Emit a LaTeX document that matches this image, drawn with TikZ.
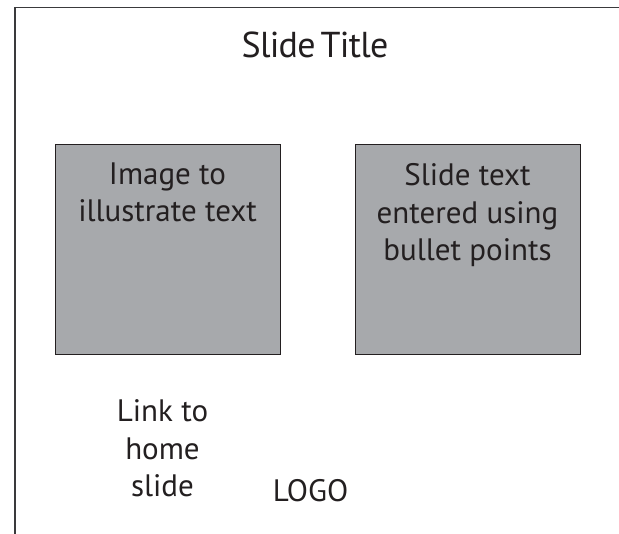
\documentclass[tikz,border=0pt]{standalone}
\usepackage{fontspec}
\setmainfont{PT Sans}
\definecolor{ink}{HTML}{231F20}
\definecolor{frameink}{HTML}{3A3A3C}
\definecolor{boxgray}{HTML}{A7A9AC}
\begin{document}
\begin{tikzpicture}[x=1pt,y=-1pt,
  graybox/.style={draw=ink, line width=1pt, fill=boxgray, inner sep=0pt, outer sep=0pt,
    minimum width=225pt, minimum height=210pt, anchor=north west},
  titletext/.style={text=ink, inner sep=0pt, anchor=base, font=\fontsize{36}{42}\selectfont\addfontfeature{LetterSpace=-2}},
  bodytext/.style={text=ink, inner sep=0pt, anchor=base, font=\fontsize{31}{37}\selectfont}]
\useasboundingbox (0,0) rectangle (619,534);
\fill[white] (0,0) rectangle (619,534);
% frame (partly outside the page)
\draw[frameink, line width=1.6pt] (15,540) -- (15,7.5) -- (625,7.5);
% title
\node[titletext] (title) at (315,58) {Slide\hspace{0.14em}Title};
% boxes
\node[graybox] (imgbox) at (55,145) {};
\node[graybox] (txtbox) at (355,145) {};
% left box text
\node[bodytext] (img1) at (167.5,185) {Image to};
\node[bodytext] (img2) at (167.5,222) {illustrate text};
% right box text
\node[bodytext] (txt1) at (467.5,186) {Slide text};
\node[bodytext] (txt2) at (467.5,224) {entered using};
\node[bodytext] (txt3) at (467.5,261) {bullet points};
% link text
\node[bodytext] (link1) at (162.5,422) {Link to};
\node[bodytext] (link2) at (162.5,460) {home};
\node[bodytext] (link3) at (162.5,497) {slide};
% logo
\node[bodytext] (logo) at (310.5,502) {LOGO};
\end{tikzpicture}
\end{document}
